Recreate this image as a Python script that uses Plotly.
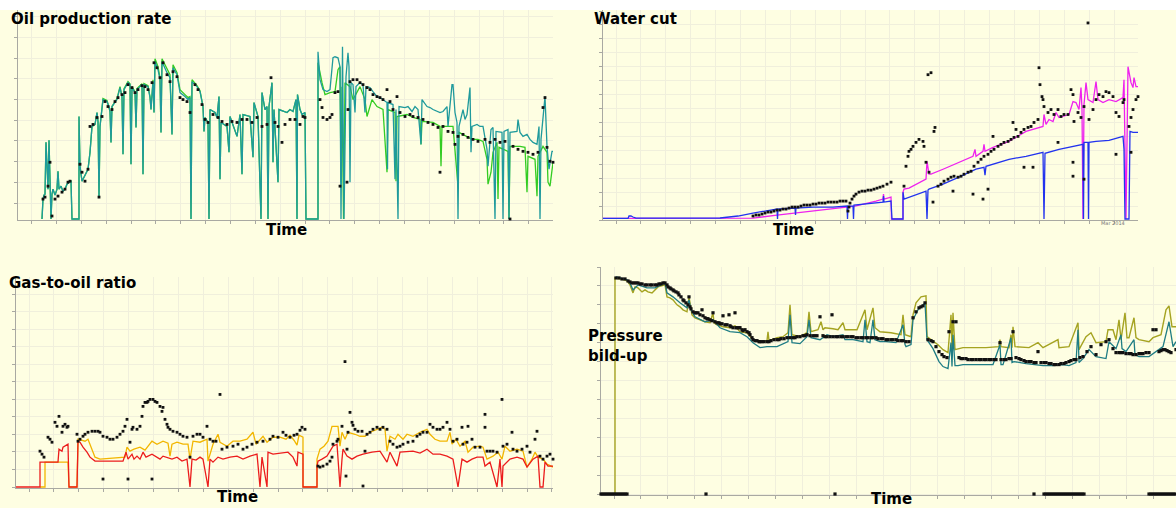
import plotly.graph_objects as go

W, H = 1176, 508

# ---------------- data (time in days, values in panel units) ----------------
OIL_TEAL = [(24,0),(25,20),(26,24),(27,25),(28,77),(29,55),(30,30),(31,79),(32,35),(33,0),(34,25),(35,30),(37,24),(39,30),(40,48),(41,30),(43,33),(45,28),(47,30),(49,35),(51,37),(53,38),(54,0),(61,0),(61,103),(62,53),(64,38),(66,42),(68,47),(70,50),(72,67),(74,93),(77,95),(79,107),(80,98),(81,22),(82,93),(85,120),(89,118),(91,113),(92,108),(93,77),(94,113),(99,120),(102,132),(104,123),(105,65),(106,130),(110,137),(112,135),(113,55),(114,132),(117,127),(118,92),(119,130),(124,135),(125,45),(126,135),(130,133),(132,122),(133,110),(135,138),(136,107),(137,158),(140,150),(142,140),(143,87),(144,158),(149,147),(152,142),(154,85),(155,152),(159,145),(162,127),(167,123),(170,120),(172,122),(173,0),(174,138),(179,133),(182,128),(185,113),(186,88),(187,102),(190,97),(191,0),(192,110),(197,107),(199,102),(201,123),(202,40),(203,97),(209,93),(211,67),(212,103),(219,83),(222,105),(224,45),(225,105),(232,103),(235,62),(236,117),(240,103),(243,0),(244,127),(247,110),(249,113),(250,0),(251,113),(254,137),(255,57),(256,110),(260,37),(261,110),(269,107),(272,110),(275,108),(278,120),(279,0),(279.5,125),(282,110),(284,105),(287,107),(288,0),(300,0),(300,168),(302,140),(305,130),(309,128),(312,130),(315,162),(317,163),(320,162),(322,153),(323,0),(324.5,173),(326,0),(328,143),(330,167),(331,153),(332,37),(333,137),(335,135),(337,107),(338,133),(342,137),(345,135),(347,107),(348,133),(352,132),(355,128),(359,123),(362,122),(365,120),(369,117),(369.5,50),(370,117),(375,115),(377,40),(378,110),(380,0),(381,113),(387,112),(390,113),(394,108),(397,113),(400,110),(403,75),(404,120),(409,113),(412,112),(415,110),(419,108),(422,107),(425,108),(429,113),(430,93),(434,135),(435,135),(437,107),(439,97),(440,0),(441,93),(445,110),(447,100),(449,105),(452,132),(453,67),(454,93),(459,95),(462,93),(465,93),(469,70),(470,53),(473,90),(475,92),(477,0),(478,88),(484,87),(485,0),(486,88),(490,90),(491,0),(492,87),(499,88),(500,100),(502,87),(505,83),(509,85),(512,80),(515,77),(519,75),(521,93),(522,0),(523,80),(527,123),(529,73),(531,50),(534,68),(535,68)]

OIL_GREEN = [(24,0),(25,20),(26,24),(27,25),(28,77),(29,55),(30,30),(31,79),(32,35),(33,0),(34,25),(35,30),(37,24),(39,30),(40,48),(41,30),(43,33),(45,28),(47,30),(49,35),(51,37),(53,38),(54,0),(61,0),(61,103),(62,53),(64,38),(66,42),(68,47),(70,50),(72,67),(74,93),(77,95),(79,107),(80,98),(81,22),(82,93),(85,121),(89,119),(91,113),(92,108),(93,77),(94,113),(99,121),(102,133),(104,123),(105,65),(106,131),(110,138),(112,136),(113,55),(114,133),(117,128),(118,92),(119,131),(124,136),(125,45),(126,136),(130,134),(132,123),(133,110),(135,140),(136,107),(137,161),(140,153),(142,142),(143,87),(144,161),(149,150),(152,145),(154,85),(155,155),(159,147),(162,130),(167,125),(170,122),(172,123),(173,0),(174,140),(179,134),(182,129),(185,113),(186,88),(187,102),(190,97),(191,0),(192,110),(197,107),(199,102),(201,123),(202,40),(203,97),(209,93),(211,67),(212,103),(219,83),(222,105),(224,45),(225,105),(232,103),(235,62),(236,117),(240,103),(243,0),(244,127),(247,110),(249,113),(250,0),(251,113),(254,137),(255,57),(256,110),(260,37),(261,110),(269,107),(272,110),(275,108),(278,120),(279,0),(279.5,125),(282,110),(284,105),(287,107),(288,0),(300,0),(300,157),(304,137),(307,125),(312,127),(317,128),(320,150),(322,153),(323,37),(324,133),(325.5,0),(327,137),(332,133),(335,120),(342,133),(347,120),(349,103),(354,120),(359,113),(365,110),(369,47),(370,110),(377,107),(378,38),(379,103),(389,105),(395,102),(402,100),(403,75),(404,98),(415,97),(422,93),(423,53),(424,93),(435,93),(440,33),(441,87),(449,83),(454,80),(460,80),(465,78),(469,60),(470,35),(473,47),(475,67),(479,77),(480,20),(481,72),(490,68),(491,0),(492,73),(502,73),(507,72),(509,27),(510,63),(517,60),(519,23),(520,63),(525,73),(529,67),(530,37),(532,33),(535,57)]

OIL_OBS = [(25,20),(27,22),(30,33),(32,57),(34,3),(37,20),(40,23),(44,27),(47,30),(50,37),(52,38),(62,55),(64,47),(67,38),(70,50),(72,93),(75,95),(79,102),(81,22),(84,103),(87,118),(90,113),(94,110),(97,118),(100,122),(104,125),(107,127),(110,135),(114,132),(117,127),(120,130),(124,134),(127,133),(130,130),(134,137),(136,157),(139,152),(142,142),(145,157),(149,145),(152,138),(155,148),(159,143),(162,122),(165,120),(169,118),(172,107),(177,135),(180,130),(184,115),(187,100),(190,97),(195,105),(200,102),(204,98),(209,95),(214,98),(219,97),(224,100),(229,100),(234,97),(239,102),(244,93),(249,95),(253,142),(257,97),(260,93),(264,77),(267,95),(272,100),(277,100),(282,95),(285,103),(287,102),(302,120),(304,112),(305,102),(309,100),(312,102),(314,105),(317,127),(320,128),(322,33),(329,37),(330,110),(332,138),(335,140),(339,140),(342,137),(345,135),(349,132),(352,130),(355,125),(359,123),(362,122),(365,120),(369,130),(372,118),(375,110),(379,123),(382,107),(387,103),(392,105),(395,103),(400,102),(405,100),(410,97),(415,95),(420,92),(422,47),(425,93),(430,88),(435,87),(437,75),(440,83),(445,85),(450,82),(455,80),(460,78),(467,80),(472,77),(477,80),(482,77),(487,78),(492,0),(495,73),(500,70),(505,68),(510,67),(515,65),(520,67),(525,112),(527,122),(529,72),(532,58),(535,57)]

WC_MAGENTA = [(0,0.6),(150,0.8),(174,4),(192,6),(210,8),(244,12),(252,13),(273,18),(280,20),(280.5,25),(281,20),(288,22),(288.5,0),(300,0),(300,27),(301,30),(306,31),(323,40),(324,58),(326,45),(328,45),(340,50),(356,57),(370,63),(372,70),(373,63),(380,68),(381,75),(382,68),(390,72),(406,78),(423,88),(440,93),(441,105),(443,95),(446,100),(450,98),(453,107),(456,102),(466,105),(470,118),(473,117),(476,110),(478,132),(479,110),(480,0),(481,115),(483,137),(485,120),(490,117),(493,138),(495,120),(500,117),(506,120),(513,118),(520,122),(521,140),(523,0),(525,153),(528,137),(530,132),(531,142),(533,133),(535,133)]

WC_BLUE = [(0,0.6),(25,0.6),(26,3),(28,3),(30,2),(33,0.8),(117,1),(135,3),(150,6),(174,10),(174.5,0),(175,10),(192,11),(192.5,4),(193,11),(210,12),(230,12),(244,13),(244.5,0),(245,13),(250,13),(250.5,0),(251,14),(262,15),(273,16),(280,17),(280.5,23),(281,17),(288,18),(289,0),(300,0),(300,27),(301,20),(306,22),(323,28),(324,0),(325,29),(326,30),(340,35),(356,42),(373,50),(381,52),(382,44),(383,53),(390,55),(406,60),(423,63),(440,67),(441,0),(442,66),(456,70),(473,73),(480,75),(480.5,0),(481,77),(485,77),(485.5,0),(486,77),(493,78),(506,79),(520,83),(521,70),(522,0),(526,0),(527,88),(530,87),(535,87)]

WC_OBS = [(150,3),(153,4),(156,4),(159,5),(162,6),(165,7),(168,7),(171,8),(174,9),(177,9),(180,10),(183,10),(186,11),(189,12),(192,12),(195,12),(198,13),(201,14),(204,14),(207,14),(210,15),(213,15),(216,16),(219,16),(222,16),(225,17),(228,17),(231,17),(234,17),(237,18),(240,18),(243,18),(245,8),(246,12),(247,16),(249,20),(251,23),(253,25),(256,27),(259,28),(262,28),(265,29),(268,29),(271,30),(274,31),(277,32),(280,33),(284,35),(288,37),(301,33),(303,53),(305,63),(306,68),(308,70),(310,73),(313,77),(316,80),(320,78),(321,73),(323,57),(325,145),(326,47),(328,147),(330,17),(331,88),(332,92),(335,33),(338,35),(341,38),(345,40),(348,42),(350,28),(351,43),(355,42),(358,43),(361,45),(365,47),(368,48),(370,25),(371,53),(375,57),(378,60),(380,20),(381,63),(385,65),(385,30),(388,68),(390,83),(391,70),(395,73),(398,75),(401,77),(405,78),(408,80),(410,97),(411,82),(413,90),(415,83),(418,87),(421,90),(421,52),(425,92),(428,93),(430,52),(431,97),(435,100),(436,152),(437,135),(439,123),(440,120),(441,113),(445,107),(448,110),(451,105),(455,110),(455,77),(458,103),(461,105),(465,105),(468,130),(470,125),(470,43),(470,57),(471,98),(475,107),(478,102),(481,113),(481,40),(485,197),(486,100),(490,110),(493,120),(496,125),(500,123),(503,128),(506,127),(510,123),(513,107),(513,65),(516,103),(520,117),(521,120),(526,93),(528,102),(528,67),(530,110),(533,120),(535,123)]

GOR_YELLOW = [(22,0),(27,0),(27,25),(50,25),(51,0),(59,0),(60,48),(67,46),(70,48),(74,38),(77,30),(82,28),(95,29),(107,30),(109,40),(112,36),(116,38),(122,40),(127,37),(134,46),(139,43),(145,46),(150,44),(152,31),(154,43),(159,45),(165,43),(170,43),(172,28),(175,46),(182,45),(189,48),(190,26),(195,43),(200,53),(202,45),(209,41),(215,46),(222,46),(229,48),(235,55),(238,43),(245,51),(249,45),(255,50),(262,50),(268,48),(272,52),(276,47),(279,42),(281,52),(285,50),(285,0),(299,0),(299,28),(302,38),(306,41),(310,46),(314,61),(320,61),(322,41),(324,55),(327,48),(330,55),(337,53),(342,51),(347,51),(352,55),(359,58),(364,60),(367,58),(369,36),(372,51),(377,48),(380,53),(385,48),(389,53),(395,51),(402,55),(409,58),(412,53),(417,48),(422,46),(429,46),(432,55),(434,43),(438,48),(442,41),(447,46),(450,35),(455,40),(462,41),(465,40),(469,28),(475,31),(480,35),(484,28),(487,41),(492,36),(499,38),(505,36),(509,20),(514,28),(517,35),(520,30),(525,28),(529,23),(535,20)]

GOR_RED = [(-2,0),(22,0),(22,25),(29,25),(40,25),(41,38),(44,36),(45,40),(49,42),(50,43),(51,0),(59,0),(60,46),(62,45),(65,40),(69,35),(72,30),(77,26),(92,26),(105,26),(108,35),(110,28),(114,33),(116,28),(119,31),(122,28),(125,35),(128,30),(134,33),(139,30),(142,28),(145,31),(149,30),(154,28),(159,30),(164,26),(169,28),(172,0),(174,28),(178,27),(182,30),(185,28),(190,0),(192,28),(195,25),(200,30),(205,28),(212,30),(219,31),(225,28),(232,31),(239,33),(242,0),(244,30),(249,0),(250,35),(255,33),(262,34),(270,35),(275,30),(279,21),(280,35),(285,33),(285,0),(299,0),(299,21),(300,26),(304,28),(309,31),(312,36),(315,41),(319,43),(322,0),(324,28),(325,38),(329,31),(334,28),(339,31),(345,33),(354,35),(362,36),(369,25),(372,35),(379,21),(382,35),(395,36),(402,34),(409,38),(415,33),(422,33),(429,31),(435,28),(440,0),(444,28),(449,25),(454,28),(459,30),(465,30),(467,21),(472,25),(479,0),(482,28),(484,0),(485,21),(492,28),(499,30),(505,28),(509,20),(515,28),(520,31),(522,0),(525,0),(527,25),(530,21),(535,21)]

GOR_OBS = [(22,36),(24,33),(26,30),(30,50),(32,48),(34,45),(37,65),(39,61),(41,71),(44,55),(45,61),(47,63),(49,60),(50,61),(59,53),(60,46),(62,48),(65,51),(67,53),(70,55),(74,56),(77,56),(80,56),(82,55),(85,51),(85,8),(89,50),(92,48),(95,48),(99,50),(102,53),(105,56),(107,61),(109,68),(110,8),(112,45),(114,58),(115,60),(119,58),(122,61),(124,71),(125,81),(127,85),(129,85),(130,86),(132,88),(134,8),(135,88),(137,86),(139,85),(142,81),(144,76),(145,80),(147,68),(149,63),(150,60),(152,58),(155,56),(159,55),(162,53),(165,51),(169,50),(172,30),(175,51),(179,53),(182,53),(185,50),(189,61),(192,48),(195,46),(198,46),(202,93),(204,38),(209,40),(215,41),(220,43),(225,38),(229,40),(234,43),(239,45),(245,46),(252,48),(255,51),(260,50),(265,55),(268,52),(272,50),(276,52),(279,53),(282,57),(284,60),(287,58),(300,21),(302,20),(305,21),(309,23),(312,26),(314,30),(315,43),(319,46),(320,48),(324,61),(327,126),(328,11),(329,38),(330,55),(332,75),(334,65),(335,62),(337,58),(340,56),(344,56),(345,1),(347,36),(349,53),(352,55),(355,58),(359,60),(362,58),(365,60),(369,58),(372,46),(375,43),(379,40),(382,41),(385,43),(390,45),(395,46),(399,51),(402,53),(405,55),(409,55),(412,63),(415,60),(419,58),(422,58),(425,60),(429,65),(432,58),(435,46),(439,48),(444,60),(445,43),(449,45),(450,61),(454,48),(457,40),(462,40),(467,73),(467,60),(469,36),(472,36),(475,36),(479,35),(484,88),(485,41),(489,43),(494,55),(495,38),(499,36),(504,38),(509,41),(512,35),(517,48),(519,56),(522,31),(525,28),(529,31),(532,33),(535,28)]

P_OLIVE = [(0,0),(14,0),(14,217),(20,216),(26,214),(29,210),(32,202),(34,208),(37,207),(41,203),(44,205),(47,203),(51,202),(54,205),(57,208),(64,210),(66,198),(69,197),(72,195),(76,190),(79,188),(82,185),(86,183),(88,198),(90,182),(91,180),(94,177),(99,175),(104,173),(109,172),(112,182),(113,172),(116,170),(122,168),(129,167),(134,169),(139,163),(146,162),(152,155),(159,153),(166,154),(167,163),(168,154),(171,155),(176,157),(182,158),(187,162),(189,190),(191,160),(199,158),(206,162),(208,183),(210,163),(217,165),(220,173),(222,165),(224,167),(232,166),(237,165),(242,172),(244,165),(246,165),(256,165),(264,185),(266,165),(272,187),(274,167),(279,163),(290,162),(300,160),(302,180),(304,160),(310,158),(312,180),(315,192),(320,198),(325,199),(326,158),(330,155),(337,150),(342,145),(347,142),(350,180),(351,145),(352,182),(354,145),(362,147),(368,147),(385,147),(398,148),(399,155),(400,148),(408,147),(410,160),(411,147),(412,168),(414,148),(428,147),(437,152),(442,147),(457,155),(458,147),(468,148),(477,172),(478,145),(485,158),(490,162),(495,152),(505,153),(507,165),(512,165),(515,155),(518,175),(520,155),(524,182),(526,157),(528,157),(533,177),(535,157),(538,155),(548,153),(552,157),(560,160),(565,185),(568,189),(571,168),(575,168)]

P_TEAL = [(15,218),(26,215),(29,212),(32,205),(37,210),(46,207),(54,207),(64,212),(66,202),(72,198),(79,192),(86,187),(88,195),(90,185),(94,178),(104,173),(112,175),(119,167),(129,163),(139,162),(146,158),(152,152),(159,147),(166,148),(176,148),(187,153),(189,180),(191,152),(199,151),(206,158),(208,175),(210,157),(219,155),(226,160),(232,158),(242,160),(244,155),(246,155),(252,155),(262,153),(264,175),(266,153),(269,152),(272,175),(274,155),(279,153),(285,153),(295,152),(302,170),(304,150),(305,148),(310,150),(312,175),(317,185),(322,190),(324,192),(326,155),(332,146),(338,133),(342,128),(347,126),(350,152),(351,128),(352,160),(354,129),(357,129),(362,130),(375,130),(392,130),(399,150),(400,130),(402,130),(410,157),(411,132),(413,133),(425,131),(442,129),(452,129),(462,130),(468,129),(475,132),(477,165),(478,132),(482,136),(488,145),(495,138),(505,136),(508,153),(515,146),(520,160),(521,146),(525,143),(533,155),(534,140),(538,138),(548,138),(555,143),(562,148),(568,173),(572,148),(575,153)]

P_OBS = [(0,0),(2,0),(4,0),(6,0),(8,0),(10,0),(12,0),(14,0),(16,0),(18,0),(20,0),(22,0),(24,0),(26,0),(105,0),(234,0),(433,0),(443,0),(445,0),(447,0),(449,0),(451,0),(453,0),(455,0),(457,0),(459,0),(461,0),(463,0),(465,0),(467,0),(469,0),(471,0),(473,0),(475,0),(477,0),(479,0),(481,0),(483,0),(548,0),(550,0),(552,0),(554,0),(556,0),(558,0),(560,0),(562,0),(564,0),(566,0),(568,0),(570,0),(572,0),(574,0),
         (15,217),(18,217),(21,216),(24,216),(27,214),(29,213),(31,212),(33,212),(35,212),(37,212),(39,211),(41,211),(44,210),(46,210),(49,210),(51,210),(54,210),(56,210),(58,211),(60,211),(62,212),(64,212),(66,210),(67,208),(69,207),(70,206),(72,205),(73,204),(75,203),(77,202),(78,200),(80,198),(82,195),(83,194),(85,192),(87,190),(88,198),(89,188),(90,186),(92,183),(94,182),(95,182),(97,182),(99,180),(101,185),(102,179),(104,177),(106,176),(107,176),(109,175),(111,174),(112,182),(114,173),(116,172),(118,172),(119,171),(121,171),(122,179),(124,170),(126,170),(128,180),(129,169),(130,168),(132,167),(134,182),(135,167),(136,167),(138,167),(139,167),(141,165),(142,164),(144,165),(146,163),(148,162),(149,160),(151,157),(152,155),(154,154),(156,154),(158,153),(159,153),(161,153),(163,153),(166,153),(168,153),(170,154),(173,155),(176,155),(178,155),(180,156),(183,156),(186,157),(189,157),(192,157),(194,157),(196,158),(199,158),(202,159),(204,159),(206,160),(209,159),(212,159),(214,159),(216,159),(219,178),(222,159),(224,158),(226,158),(229,158),(231,180),(232,158),(235,158),(237,158),(240,158),(242,158),(245,158),(247,158),(250,158),(252,158),(255,157),(257,157),(260,157),(262,157),(265,157),(267,157),(270,157),(272,157),(275,157),(277,156),(280,156),(282,156),(285,155),(287,155),(290,155),(292,155),(295,155),(297,154),(300,154),(302,154),(305,153),(308,153),(312,177),(315,183),(318,187),(320,188),(322,189),(324,192),(327,155),(330,154),(332,153),(335,148),(338,143),(341,140),(343,138),(346,137),(348,163),(352,173),(355,173),(358,137),(360,136),(362,136),(365,136),(367,135),(370,135),(372,135),(375,135),(378,135),(380,135),(383,135),(385,135),(388,135),(390,135),(393,135),(395,135),(399,152),(400,135),(403,135),(405,135),(408,136),(410,136),(412,163),(415,137),(418,136),(420,135),(423,134),(425,133),(428,133),(430,133),(433,132),(435,132),(437,143),(440,132),(443,132),(445,132),(448,131),(450,131),(453,130),(455,130),(458,130),(460,131),(463,131),(465,132),(468,133),(470,134),(473,135),(475,135),(479,137),(482,138),(486,143),(490,148),(495,140),(500,150),(505,153),(508,155),(512,146),(515,142),(518,142),(520,142),(522,142),(525,141),(528,141),(530,141),(532,140),(535,140),(538,141),(540,141),(542,141),(545,142),(548,142),(552,165),(555,165),(558,143),(560,144),(562,145),(564,145),(566,144),(568,143),(570,142),(575,145)]

# ---------------- styling ----------------
BG = "#fefee2"
GRID = "#f0efdc"
AXC = "#a9a9a2"
FONT = "DejaVu Sans"

fig = go.Figure()


def add_line(pairs, color, xa, ya, width=1.3):
    fig.add_trace(go.Scatter(x=[p[0] for p in pairs], y=[p[1] for p in pairs], mode="lines",
                             line=dict(color=color, width=width), xaxis=xa, yaxis=ya,
                             hoverinfo="skip"))


def add_dots(pairs, xa, ya, size=2.8):
    fig.add_trace(go.Scatter(x=[p[0] for p in pairs], y=[p[1] for p in pairs], mode="markers",
                             marker=dict(symbol="square", size=size, color="#111111", line=dict(width=0)),
                             xaxis=xa, yaxis=ya, hoverinfo="skip", cliponaxis=False))


# oil
add_line(OIL_GREEN, "#33cc22", "x", "y")
add_line(OIL_TEAL, "#1f9a9c", "x", "y")
add_dots(OIL_OBS, "x", "y")
# water cut
add_line(WC_MAGENTA, "#ee22ee", "x2", "y2")
add_line(WC_BLUE, "#2233ee", "x2", "y2")
add_dots(WC_OBS, "x2", "y2")
# GOR
add_line(GOR_YELLOW, "#f2b600", "x3", "y3")
add_line(GOR_RED, "#ec1c1c", "x3", "y3")
add_dots(GOR_OBS, "x3", "y3")
# pressure
add_line(P_OLIVE, "#a5a321", "x4", "y4", 1.4)
add_line(P_TEAL, "#1f7d84", "x4", "y4")
add_dots(P_OBS, "x4", "y4", 3.2)


def axis(dom, rng, t0, dt, anchor):
    return dict(domain=dom, range=rng, anchor=anchor, tickmode="linear", tick0=t0, dtick=dt,
                ticks="outside", ticklen=3, tickwidth=1, tickcolor=AXC, showticklabels=False,
                showline=True, linecolor=AXC, linewidth=1, showgrid=True, gridcolor=GRID,
                gridwidth=1, zeroline=False, layer="below traces", fixedrange=True)


def px(v):
    return v / W


def py(v):
    return 1 - v / H


fig.update_layout(
    width=W, height=H, margin=dict(l=0, r=0, t=0, b=0),
    paper_bgcolor=BG, plot_bgcolor=BG, showlegend=False,
    xaxis=axis([px(18), px(553)], [0, 535], 13.7, 24.85, "y"),
    yaxis=axis([py(220), py(10)], [-1, 210], 16, 20.8, "x"),
    xaxis2=axis([px(603), px(1138)], [0, 535], 13, 24.9, "y2"),
    yaxis2=axis([py(220), py(10)], [-1, 210], 13, 14, "x2"),
    xaxis3=axis([px(16), px(553)], [-2, 535], 11, 24.9, "y3"),
    yaxis3=axis([py(488), py(277)], [-1, 211], 0, 17.6, "x3"),
    xaxis4=axis([px(601), 1.0], [0, 575], 13, 26.95, "y4"),
    yaxis4=axis([py(495), py(267)], [-1, 228], 0, 19, "x4"),
    shapes=[dict(type="rect", xref="paper", yref="paper", x0=0, x1=1, y0=py(10), y1=1,
                 fillcolor="white", line=dict(width=0), layer="below")],
)


def label(text, x, y, xanchor="left", size=15, color="black"):
    fig.add_annotation(text=text, x=px(x), y=py(y), xref="paper", yref="paper",
                       xanchor=xanchor, yanchor="middle", showarrow=False, align="left",
                       font=dict(family=FONT, size=size, color=color))


label("<b>Oil production rate</b>", 9, 19)
label("<b>Time</b>", 286, 230, "center")
label("<b>Water cut</b>", 592, 19)
label("<b>Time</b>", 793, 230, "center")
label("<b>Gas-to-oil ratio</b>", 7, 283)
label("<b>Time</b>", 237, 497, "center")
label("<b>Pressure</b><br><b>bild-up</b>", 586, 346, size=15)
label("<b>Time</b>", 891, 499, "center")
label("Mar 2014", 1113, 223, "center", size=5, color="#777777")

fig.write_html("out.html", config={"displayModeBar": False},
               post_script="document.body.style.margin='0';document.body.style.overflow='hidden';")
